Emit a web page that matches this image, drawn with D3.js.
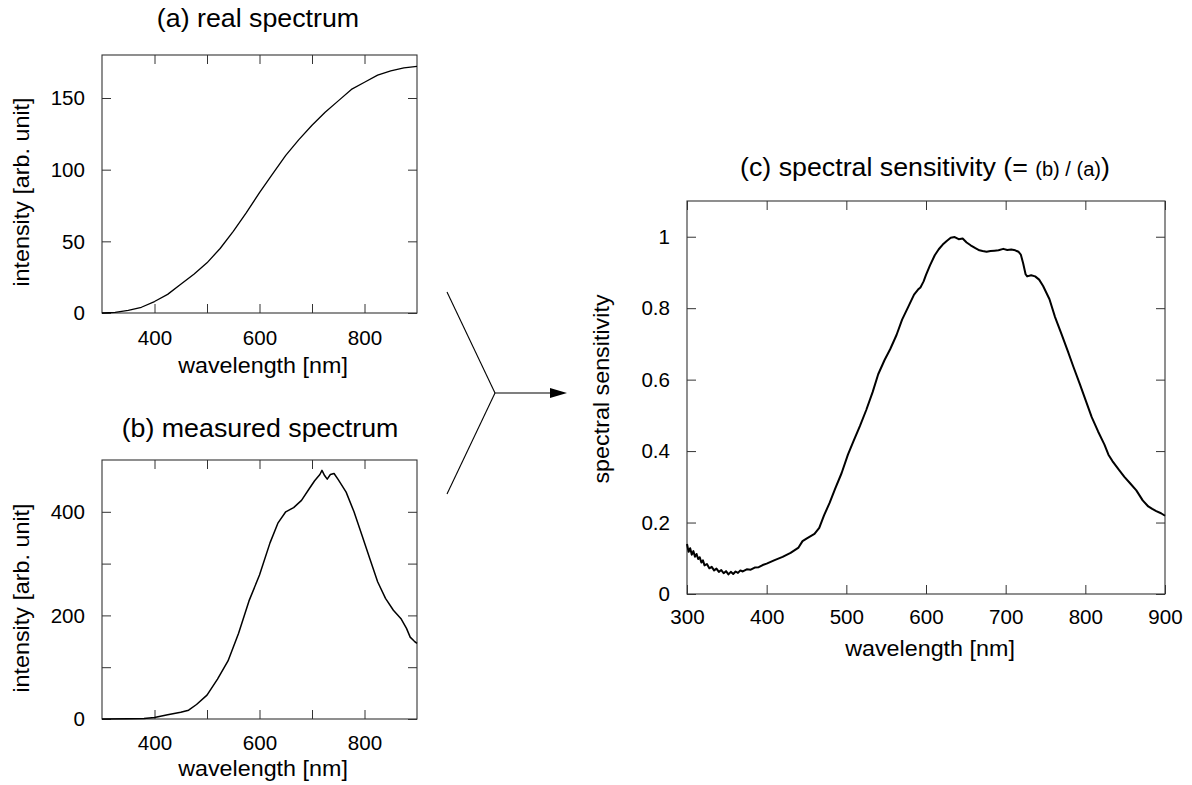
<!DOCTYPE html>
<html>
<head>
<meta charset="utf-8">
<script src="https://cdn.jsdelivr.net/npm/d3@7"></script>
<style>
  body { margin: 0; background: #fff; }
  svg { display: block; }
  text { font-family: "Liberation Sans", Arial, Helvetica, sans-serif; fill: #000; }
</style>
</head>
<body>
<svg id="chart" width="1192" height="785"></svg>
<script>
// ---------------- DATA ----------------
// (a) real spectrum : [wavelength nm, intensity]
const realSpectrum = [
  [300,0],[325,0.5],[350,1.8],[375,4],[400,8],[425,13],[450,20],[475,27],[500,35],
  [525,45],[550,57],[575,70],[600,84],[625,97],[650,110],[675,121],[700,131],
  [725,140],[750,148],[775,156],[800,161],[825,166],[850,169],[875,171],[900,172]
];
// (b) measured spectrum : [wavelength nm, intensity]
const measuredSpectrum = [
  [300,0],[350,0.5],[380,1],[400,3],[425,8],[450,13],[465,17],[480,28],[500,46],
  [520,77],[540,112],[560,165],[580,228],[600,278],[620,340],[635,378],[650,400],
  [665,408],[680,422],[695,445],[705,460],[715,472],[719,480],[724,470],[729,463],
  [735,472],[742,474],[750,462],[765,438],[780,400],[795,355],[810,310],[825,265],
  [840,233],[855,210],[870,193],[880,175],[887,158],[895,150],[900,146]
];
// (c) spectral sensitivity : [wavelength nm, relative sensitivity]
const sensitivity = [
  [300,0.140],[302,0.118],[304,0.128],[306,0.110],[308,0.120],[310,0.104],[312,0.112],
  [314,0.098],[316,0.103],[318,0.088],[320,0.094],[322,0.080],[325,0.084],[328,0.072],
  [331,0.076],[334,0.066],[337,0.071],[340,0.062],[343,0.067],[346,0.058],[349,0.064],
  [352,0.055],[355,0.062],[358,0.056],[361,0.063],[364,0.059],[367,0.066],[370,0.063],
  [375,0.069],[380,0.068],[385,0.074],[390,0.075],[395,0.081],[400,0.085],[410,0.095],
  [420,0.104],[430,0.115],[440,0.130],[445,0.148],[450,0.155],[460,0.168],[466,0.185],
  [472,0.220],[479,0.255],[486,0.295],[494,0.338],[502,0.390],[509,0.428],[517,0.470],
  [525,0.515],[533,0.565],[540,0.615],[548,0.655],[555,0.685],[563,0.725],[570,0.768],
  [578,0.805],[585,0.838],[590,0.852],[593,0.858],[597,0.875],[600,0.893],[605,0.920],
  [611,0.948],[616,0.965],[621,0.978],[626,0.988],[631,0.997],[636,0.999],[641,0.993],
  [646,0.995],[651,0.984],[656,0.976],[662,0.968],[667,0.962],[671,0.960],[676,0.958],
  [681,0.960],[686,0.961],[691,0.962],[697,0.966],[702,0.963],[707,0.964],[712,0.962],
  [716,0.958],[719,0.950],[722,0.925],[725,0.895],[727,0.889],[732,0.892],[737,0.889],
  [742,0.880],[747,0.862],[755,0.825],[762,0.775],[770,0.728],[778,0.680],[785,0.636],
  [793,0.588],[800,0.545],[808,0.495],[816,0.455],[824,0.418],[829,0.390],[834,0.372],
  [842,0.348],[849,0.328],[857,0.308],[864,0.290],[872,0.262],[879,0.245],[884,0.238],
  [889,0.232],[895,0.226],[900,0.219]
];

// tick values / labels
const xTicksAB = [400,500,600,700,800];
const xLabelsAB = [400,600,800];
const yTicksA = [0,50,100,150];
const yLabelsA = [0,50,100,150];
const yTicksB = [0,100,200,300,400];
const yLabelsB = [0,200,400];
const xTicksC = [300,400,500,600,700,800,900];
const yTicksC = [0,0.2,0.4,0.6,0.8,1];

const titles = ["(a) real spectrum", "(b) measured spectrum"];
const titleC = ["(c) spectral sensitivity (= ", "(b) / (a)", ")"];
const xAxisTitle = "wavelength [nm]";
const yAxisTitleAB = "intensity [arb. unit]";
const yAxisTitleC = "spectral sensitivity";

// ---------------- DRAW ----------------
const TICK_FS = 21, TICK_SX = 0.98;
const AXIS_FS = 22, AXIS_SX = 1.06;
const TITLE_FS = 26, TITLE_SX = 1.03;
const TICK = 9;
const svg = d3.select("#chart");

function label(x, y, txt, size, sx, rotate) {
  const g = svg.append("g").attr("transform", `translate(${x},${y})` + (rotate ? ` rotate(${rotate})` : ""));
  return g.append("text").attr("text-anchor", "middle").attr("font-size", size)
    .attr("transform", `scale(${sx},1)`).text(txt);
}

function panel(cfg) {
  const x = d3.scaleLinear().domain(cfg.xDomain).range([cfg.left, cfg.right]);
  const y = d3.scaleLinear().domain(cfg.yDomain).range([cfg.bottom, cfg.top]);

  const fmt = cfg.fmt || (d => d);
  const bottom = svg.append("g").attr("transform", `translate(0,${cfg.bottom})`)
    .call(d3.axisBottom(x).tickValues(cfg.xTicks).tickSize(-TICK).tickPadding(cfg.xPad)
      .tickFormat(d => cfg.xLabels.includes(d) ? d : ""));
  const top = svg.append("g").attr("transform", `translate(0,${cfg.top})`)
    .call(d3.axisTop(x).tickValues(cfg.xTicks).tickSize(-TICK).tickFormat(""));
  const left = svg.append("g").attr("transform", `translate(${cfg.left},0)`)
    .call(d3.axisLeft(y).tickValues(cfg.yTicks).tickSize(-TICK).tickPadding(cfg.yPad)
      .tickFormat(d => cfg.yLabels.includes(d) ? fmt(d) : ""));
  const right = svg.append("g").attr("transform", `translate(${cfg.right},0)`)
    .call(d3.axisRight(y).tickValues(cfg.yTicks).tickSize(-TICK).tickFormat(""));

  [bottom, top, left, right].forEach(g => {
    g.select(".domain").remove();
    g.selectAll(".tick line").attr("stroke", "#333").attr("stroke-width", 1);
    g.selectAll("text").attr("font-size", TICK_FS).attr("font-family", null).attr("fill", "#000");
  });
  bottom.selectAll("text").attr("transform", `scale(${TICK_SX},1)`);
  left.selectAll("text").attr("x", -cfg.yPad / TICK_SX).attr("transform", `scale(${TICK_SX},1)`);

  svg.append("rect")
    .attr("x", cfg.left).attr("y", cfg.top)
    .attr("width", cfg.right - cfg.left).attr("height", cfg.bottom - cfg.top)
    .attr("fill", "none").attr("stroke", "#333").attr("stroke-width", 1.1);

  svg.append("path").datum(cfg.data)
    .attr("fill", "none").attr("stroke", "#000").attr("stroke-width", cfg.lw)
    .attr("stroke-linejoin", "round")
    .attr("d", d3.line().x(d => x(d[0])).y(d => y(d[1])));
}

// (a)
panel({ left: 102, right: 417, top: 55, bottom: 313, xDomain: [300, 900], yDomain: [0, 180],
  xTicks: xTicksAB, xLabels: xLabelsAB, yTicks: yTicksA, yLabels: yLabelsA,
  xPad: 17.5, yPad: 17, data: realSpectrum, lw: 1.3 });
label(258, 27, titles[0], TITLE_FS, TITLE_SX);
label(263, 372.5, xAxisTitle, AXIS_FS, AXIS_SX);
label(28.5, 192, yAxisTitleAB, AXIS_FS, AXIS_SX, -90);

// (b)
panel({ left: 102, right: 417, top: 460, bottom: 719, xDomain: [300, 900], yDomain: [0, 500],
  xTicks: xTicksAB, xLabels: xLabelsAB, yTicks: yTicksB, yLabels: yLabelsB,
  xPad: 16, yPad: 17, data: measuredSpectrum, lw: 1.5 });
label(260, 437, titles[1], TITLE_FS, TITLE_SX);
label(263, 776, xAxisTitle, AXIS_FS, AXIS_SX);
label(28.5, 598, yAxisTitleAB, AXIS_FS, AXIS_SX, -90);

// (c)
panel({ left: 687, right: 1165, top: 201, bottom: 594, xDomain: [300, 900], yDomain: [0, 1.1],
  xTicks: xTicksC, xLabels: xTicksC, yTicks: yTicksC, yLabels: yTicksC,
  xPad: 15, yPad: 17, data: sensitivity, lw: 2, fmt: d => d3.format("~g")(d) });
{
  const g = svg.append("g").attr("transform", "translate(925,176)");
  const t = g.append("text").attr("text-anchor", "middle").attr("font-size", TITLE_FS)
    .attr("transform", `scale(${TITLE_SX},1)`);
  t.append("tspan").text(titleC[0]);
  t.append("tspan").attr("font-size", 19.5).text(titleC[1]);
  t.append("tspan").text(titleC[2]);
}
label(930, 656, xAxisTitle, AXIS_FS, AXIS_SX);
label(609, 389, yAxisTitleC, AXIS_FS, AXIS_SX, -90);

// arrow connector
const arrowLines = [[[447, 292], [495, 393]], [[495, 393], [447, 494]], [[495, 393], [552, 393]]];
arrowLines.forEach(seg => svg.append("path")
  .attr("d", d3.line()(seg)).attr("stroke", "#000").attr("stroke-width", 1.1).attr("fill", "none"));
svg.append("path").attr("d", d3.line()([[550, 388], [567, 393], [550, 398]]) + "Z").attr("fill", "#000");
</script>
</body>
</html>
